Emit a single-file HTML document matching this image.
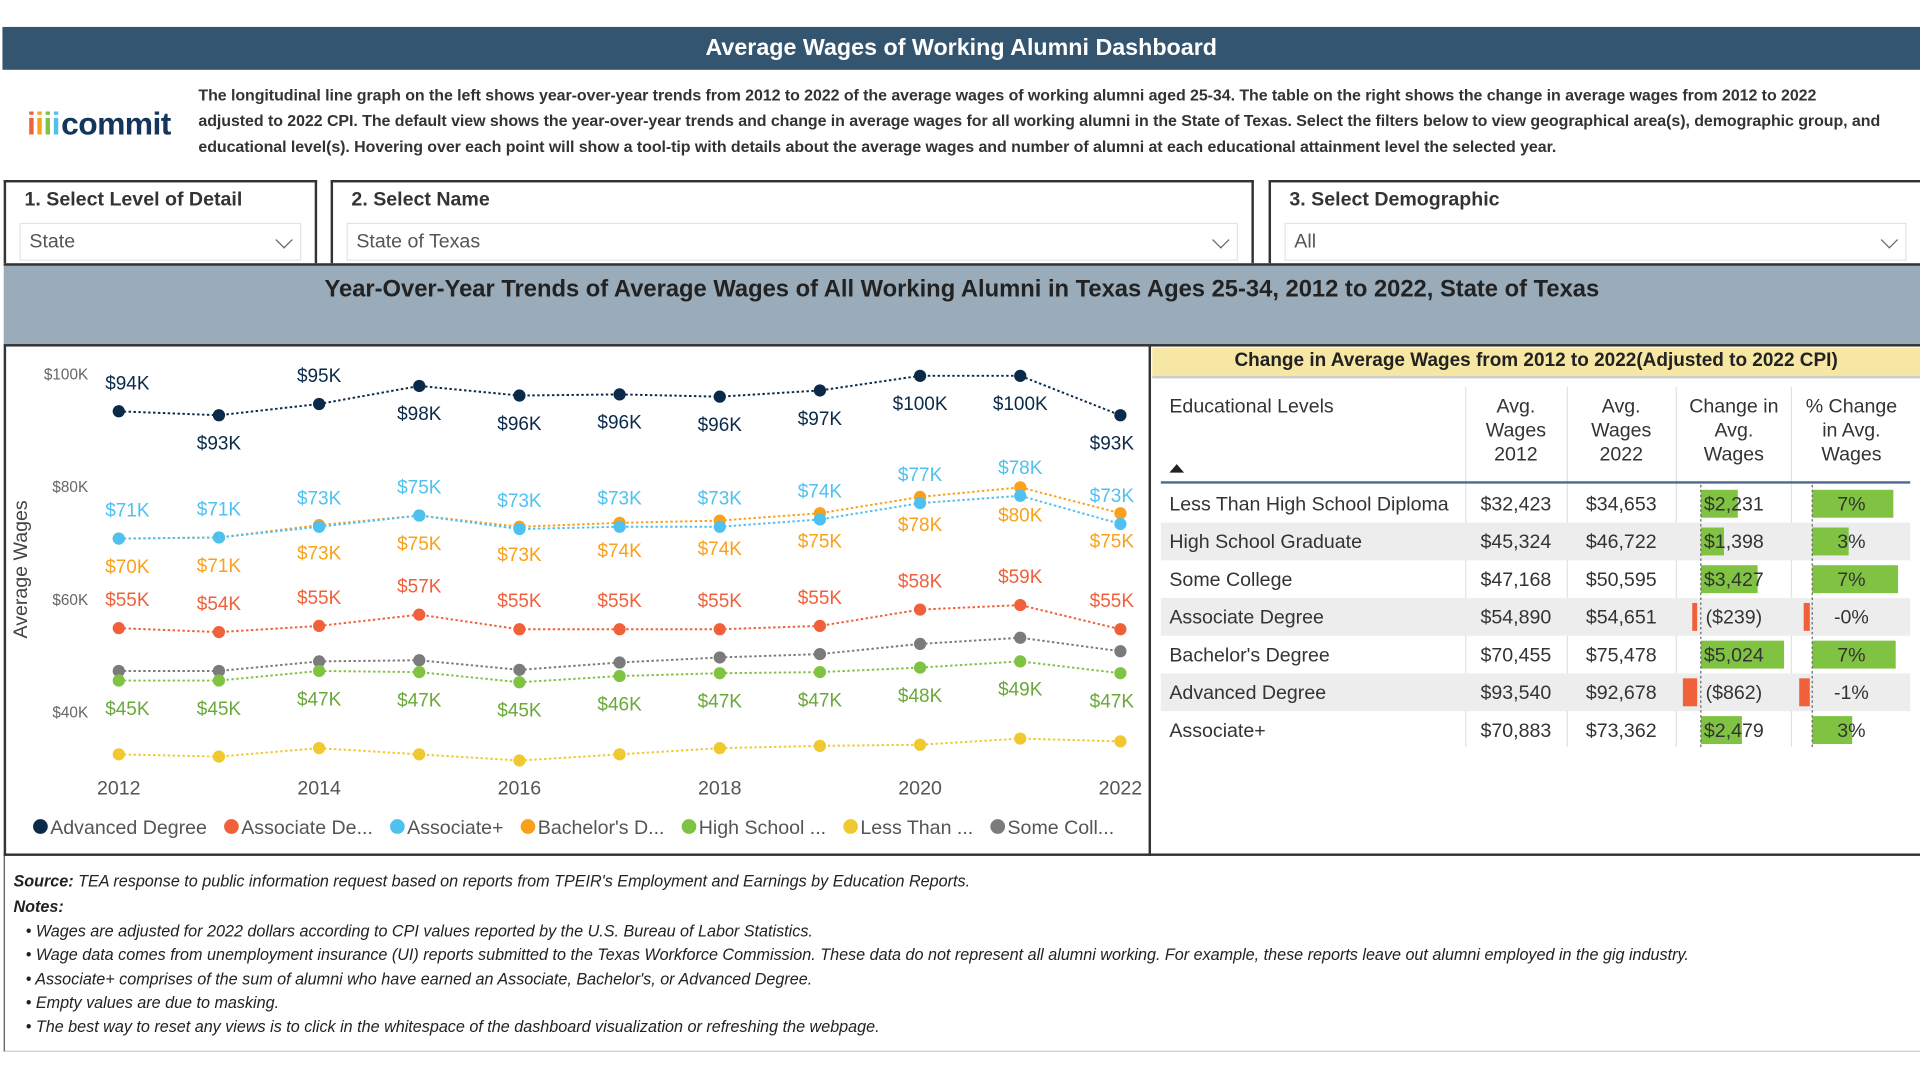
<!DOCTYPE html>
<html><head><meta charset="utf-8">
<style>
html,body{margin:0;padding:0;background:#fff;width:1920px;height:1080px;overflow:hidden}
#page{position:absolute;left:0;top:0;width:1568px;height:882px;transform:scale(1.22449);transform-origin:0 0;font-family:"Liberation Sans",Arial,sans-serif;color:#333}
.abs{position:absolute}
#topbar{left:2px;top:22px;width:1566px;height:35px;background:#34556f;color:#fff;font-weight:bold;font-size:19px;text-align:center;line-height:35px}
#desc{left:162px;top:67px;font-size:13.05px;font-weight:bold;color:#333;line-height:21px;white-space:nowrap;letter-spacing:-0.05px}
#logo{left:22px;top:86px;font-size:26px;font-weight:bold;color:#14365c;letter-spacing:-0.5px}
.fbox{top:147px;height:68px;border:2px solid #333;border-bottom:none;box-sizing:border-box;background:#fff}
.flabel{position:absolute;left:15px;top:6px;font-size:16px;font-weight:bold;color:#333}
.dd{position:absolute;left:11px;right:11px;top:33px;height:31px;border:1px solid #e4e4e4;box-sizing:border-box;font-size:16px;color:#555;line-height:29px;padding-left:7px}
.chev{position:absolute;right:8px;top:8px;width:9px;height:9px;border-right:1.5px solid #666;border-bottom:1.5px solid #666;transform:rotate(45deg)}
#band{left:3px;top:215px;width:1565px;height:68px;background:#9aabb9;border-top:2px solid #333;border-bottom:2px solid #333;box-sizing:border-box;text-align:center;font-size:19.4px;font-weight:bold;color:#222;padding-top:8px;padding-right:0}
#chartpanel{left:3px;top:283px;width:937px;height:416px;border-left:2px solid #333;border-right:2px solid #333;border-bottom:2px solid #333;box-sizing:border-box}
#tablepanel{left:940px;top:283px;width:628px;height:416px;border-bottom:2px solid #333;box-sizing:border-box}
#tabtitle{left:941px;top:284px;width:627px;height:25px;background:#f6e7a5;border-bottom:2px solid #ccc;box-sizing:border-box;text-align:center;font-size:15.5px;font-weight:bold;color:#222;line-height:22px}
#footer{left:3px;top:699px;width:1565px;height:160px;border-left:1px solid #555;border-bottom:1px solid #ccc;box-sizing:border-box;font-size:13.2px;font-style:italic;color:#222}
#footer div{position:absolute;left:7px;white-space:nowrap}
svg text{font-family:"Liberation Sans",Arial,sans-serif}
</style></head><body>
<div id="page">
<div id="topbar" class="abs">Average Wages of Working Alumni Dashboard</div>
<div id="logo" class="abs"><span style="color:#f0603a">i</span><span style="color:#f9a11b">i</span><span style="color:#80c342">i</span><span style="color:#4fc1ef;margin-right:1px">i</span>commit</div>
<div id="desc" class="abs">The longitudinal line graph on the left shows year-over-year trends from 2012 to 2022 of the average wages of working alumni aged 25-34. The table on the right shows the change in average wages from 2012 to 2022<br>adjusted to 2022 CPI. The default view shows the year-over-year trends and change in average wages for all working alumni in the State of Texas. Select the filters below to view geographical area(s), demographic group, and<br>educational level(s). Hovering over each point will show a tool-tip with details about the average wages and number of alumni at each educational attainment level the selected year.</div>

<div class="abs fbox" style="left:3px;width:256px"><div class="flabel">1. Select Level of Detail</div><div class="dd">State<span class="chev"></span></div></div>
<div class="abs fbox" style="left:270px;width:754px"><div class="flabel">2. Select Name</div><div class="dd">State of Texas<span class="chev"></span></div></div>
<div class="abs fbox" style="left:1036px;width:532px;border-right:none"><div class="flabel">3. Select Demographic</div><div class="dd">All<span class="chev"></span></div></div>

<div id="band" class="abs">Year-Over-Year Trends of Average Wages of All Working Alumni in Texas Ages 25-34, 2012 to 2022, State of Texas</div>

<div id="chartpanel" class="abs"></div>
<svg id="chart" class="abs" style="left:0;top:0" width="940" height="700"></svg>

<div id="tablepanel" class="abs"></div>
<div id="tabtitle" class="abs">Change in Average Wages from 2012 to 2022(Adjusted to 2022 CPI)</div>
<svg id="table" class="abs" style="left:0;top:0" width="1568" height="700"></svg>

<div id="footer" class="abs">
<div style="top:13px"><b>Source:</b> TEA response to public information request based on reports from TPEIR's Employment and Earnings by Education Reports.</div>
<div style="top:34px;font-weight:bold">Notes:</div>
<div style="top:54px;left:17px">• Wages are adjusted for 2022 dollars according to CPI values reported by the U.S. Bureau of Labor Statistics.</div>
<div style="top:73px;left:17px">• Wage data comes from unemployment insurance (UI) reports submitted to the Texas Workforce Commission. These data do not represent all alumni working. For example, these reports leave out alumni employed in the gig industry.</div>
<div style="top:93px;left:17px">• Associate+ comprises of the sum of alumni who have earned an Associate, Bachelor's, or Advanced Degree.</div>
<div style="top:112px;left:17px">• Empty values are due to masking.</div>
<div style="top:132px;left:17px">• The best way to reset any views is to click in the whitespace of the dashboard visualization or refreshing the webpage.</div>
</div>
</div>

<script>
const years = [2012,2013,2014,2015,2016,2017,2018,2019,2020,2021,2022];
const yTicks = [40,60,80,100];
const xTicks = [2012,2014,2016,2018,2020,2022];
const advanced = [93.5,92.8,94.8,98.0,96.3,96.5,96.1,97.2,99.8,99.8,92.8];
const advancedLabels = ["$94K","$93K","$95K","$98K","$96K","$96K","$96K","$97K","$100K","$100K","$93K"];
const associate = [55.0,54.3,55.4,57.4,54.8,54.8,54.8,55.4,58.3,59.1,54.8];
const associateLabels = ["$55K","$54K","$55K","$57K","$55K","$55K","$55K","$55K","$58K","$59K","$55K"];
const associatePlus = [70.9,71.1,73.0,75.0,72.6,73.0,73.0,74.3,77.2,78.5,73.5];
const associatePlusLabels = ["$71K","$71K","$73K","$75K","$73K","$73K","$73K","$74K","$77K","$78K","$73K"];
const bachelors = [70.9,71.1,73.3,75.0,73.0,73.7,74.1,75.4,78.3,80.0,75.4];
const bachelorsLabels = ["$70K","$71K","$73K","$75K","$73K","$74K","$74K","$75K","$78K","$80K","$75K"];
const highSchool = [45.7,45.7,47.4,47.2,45.4,46.5,47.0,47.2,48.0,49.1,47.0];
const highSchoolLabels = ["$45K","$45K","$47K","$47K","$45K","$46K","$47K","$47K","$48K","$49K","$47K"];
const lessThanHS = [32.6,32.2,33.7,32.6,31.5,32.6,33.7,34.1,34.3,35.4,34.9];
const someCollege = [47.4,47.4,49.1,49.3,47.6,48.9,49.8,50.4,52.2,53.3,50.9];

const NS="http://www.w3.org/2000/svg";
function mk(parent,tag,attrs,txt){const e=document.createElementNS(NS,tag);for(const k in attrs)e.setAttribute(k,attrs[k]);if(txt!==undefined)e.textContent=txt;parent.appendChild(e);return e;}
const X = y => 97 + (y-2012)*81.8;
const Y = v => 582 - (v-40)*4.6;
const svg=document.getElementById('chart');

yTicks.forEach(t=>{const e=mk(svg,'text',{x:72,y:Y(t)+4,'text-anchor':'end','font-size':12.5,fill:'#666'},'$'+t+'K');

});
xTicks.forEach(t=>{const e=mk(svg,'text',{x:X(t),y:649,'text-anchor':'middle','font-size':16,fill:'#555'},String(t));

});
const yt=mk(svg,'text',{x:0,y:0,transform:'translate(22,465) rotate(-90)','text-anchor':'middle','font-size':16,fill:'#444'},'Average Wages');



const series=[
 {name:'advanced-degree',vals:advanced,labels:advancedLabels,color:'#0b2a4a',lc:'#0b2a4a',pos:i=>(i===0||i===2)?-1:1},
 {name:'bachelors-degree',vals:bachelors,labels:bachelorsLabels,color:'#f9a11b',lc:'#f9a11b',pos:()=>1},
 {name:'associate-plus',vals:associatePlus,labels:associatePlusLabels,color:'#4fc1ef',lc:'#4fc1ef',pos:()=>-1},
 {name:'associate-degree',vals:associate,labels:associateLabels,color:'#f0603a',lc:'#f0603a',pos:()=>-1},
 {name:'some-college',vals:someCollege,labels:null,color:'#7b7b7b'},
 {name:'high-school',vals:highSchool,labels:highSchoolLabels,color:'#80c342',lc:'#6aa83a',pos:()=>1},
 {name:'less-than-high-school',vals:lessThanHS,labels:null,color:'#f0c930'}
];
series.forEach(s=>{
 const g=mk(svg,'g',{});
 
 
 const pts=s.vals.map((v,i)=>X(years[i])+','+Y(v)).join(' ');
 const l=mk(g,'polyline',{points:pts,fill:'none',stroke:s.color,'stroke-width':1.6,'stroke-dasharray':'2 2'});
 
 
 s.vals.forEach((v,i)=>{
  const c=mk(g,'circle',{cx:X(years[i]),cy:Y(v),r:5,fill:s.color});
  
  
  if(s.labels){
   const d=s.pos(i);
   const dx=i===0?7:(i===10?-7:0);
   const t=mk(g,'text',{x:X(years[i])+dx,y:d<0?Y(v)-18:Y(v)+28,'text-anchor':'middle','font-size':15.5,fill:s.lc},s.labels[i]);
   
   
  }
 });
});
const legendNames=['Advanced Degree','Associate De...','Associate+',"Bachelor's D...",'High School ...','Less Than ...','Some Coll...'];
const legendColors=['#0b2a4a','#f0603a','#4fc1ef','#f9a11b','#80c342','#f0c930','#7b7b7b'];
let lx=27;
legendNames.forEach((n,i)=>{
 const g=mk(svg,'g',{});
 
 
 mk(g,'circle',{cx:lx+6,cy:675,r:6,fill:legendColors[i]});
 const t=mk(g,'text',{x:lx+14,y:681,'font-size':16,fill:'#555'},n);
 lx+=14+t.getComputedTextLength()+14;
});

// table
const levels=['Less Than High School Diploma','High School Graduate','Some College','Associate Degree',"Bachelor's Degree",'Advanced Degree','Associate+'];
const wages2012=[32423,45324,47168,54890,70455,93540,70883];
const wages2022=[34653,46722,50595,54651,75478,92678,73362];
const changes=[2231,1398,3427,-239,5024,-862,2479];
const pctChanges=[6.9,3.1,7.3,-0.4,7.1,-0.9,3.4];
const tb=document.getElementById('table');
const fmt=n=>'$'+Math.abs(n).toLocaleString('en-US');
[[955,'start',['Educational Levels']],[1238,'middle',['Avg.','Wages','2012']],[1324,'middle',['Avg.','Wages','2022']],[1416,'middle',['Change in','Avg.','Wages']],[1512,'middle',['% Change','in Avg.','Wages']]].forEach(h=>{
 h[2].forEach((ln,j)=>{const t=mk(tb,'text',{x:h[0],y:337+j*19.5,'text-anchor':h[1],'font-size':16,fill:'#333'},ln);
 
 });
});
const sa=mk(tb,'path',{d:'M955,386 L961,379 L967,386 Z',fill:'#222'});


[1197,1280,1369,1463].forEach(x=>mk(tb,'line',{x1:x,y1:316,x2:x,y2:610,stroke:'#e2e2e2','stroke-width':1}));
const rowTop=396,rowH=30.8;
levels.forEach((lv,i)=>{
 const y=rowTop+i*rowH, cy=y+rowH/2+5.5;
 const g=mk(tb,'g',{});
 
 
 if(i%2===1) mk(g,'rect',{x:948,y:y,width:612,height:rowH,fill:'#ededed'});
 const ch=changes[i];
 const pct=pctChanges[i];
 const bw=ch*68/5024;
 const bwa=bw<0?Math.max(4,Math.abs(bw)):bw;
 const b=mk(g,'rect',{x:bw>=0?1389:1386-bwa,y:y+4,width:bwa,height:rowH-8,fill:bw>=0?'#80c342':'#f0603a'});
 
 
 const pw=pct*9.6;
 const pwa=pw<0?Math.max(5,Math.abs(pw)):pw;
 const pb=mk(g,'rect',{x:pw>=0?1480:1478-pwa,y:y+4,width:pwa,height:rowH-8,fill:pw>=0?'#80c342':'#f0603a'});
 
 
 mk(g,'text',{x:955,y:cy,'font-size':16,fill:'#333'},lv);
 mk(g,'text',{x:1238,y:cy,'text-anchor':'middle','font-size':16,fill:'#333'},fmt(wages2012[i]));
 mk(g,'text',{x:1324,y:cy,'text-anchor':'middle','font-size':16,fill:'#333'},fmt(wages2022[i]));
 mk(g,'text',{x:1416,y:cy,'text-anchor':'middle','font-size':16,fill:'#333'},ch<0?'('+fmt(ch)+')':fmt(ch));
 mk(g,'text',{x:1512,y:cy,'text-anchor':'middle','font-size':16,fill:'#333'},(pct<0?'-':'')+Math.abs(Math.round(pct))+'%');
});
mk(tb,'line',{x1:948,y1:394,x2:1560,y2:394,stroke:'#4a6a88','stroke-width':2});
mk(tb,'line',{x1:1389,y1:396,x2:1389,y2:612,stroke:'#666','stroke-width':1,'stroke-dasharray':'2 2'});
mk(tb,'line',{x1:1480,y1:396,x2:1480,y2:612,stroke:'#666','stroke-width':1,'stroke-dasharray':'2 2'});
</script>
</body></html>
